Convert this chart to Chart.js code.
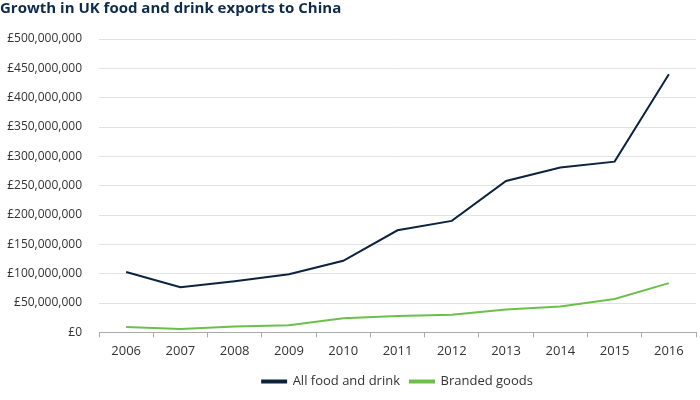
<!DOCTYPE html>
<html>
<head>
<meta charset="utf-8">
<script src="https://cdn.jsdelivr.net/npm/chart.js@4"></script>
<style>
  html, body { margin: 0; padding: 0; background: #fff; }
  #wrap { width: 700px; height: 400px; }
</style>
</head>
<body>
<div id="wrap"><canvas id="myChart" width="700" height="400"></canvas></div>
<script>
let years = ['2006', '2007', '2008', '2009', '2010', '2011', '2012', '2013', '2014', '2015', '2016'];
let allFoodDrink = [103000000, 77000000, 87000000, 99000000, 122000000, 174000000, 190000000, 258000000, 281000000, 291000000, 440000000];
let brandedGoods = [9000000, 6000000, 10000000, 12000000, 24000000, 28000000, 30000000, 39000000, 44000000, 57000000, 84000000];
let navy = '#0c2340';
let green = '#6cc04a';

let ctx = document.getElementById('myChart').getContext('2d');

// centre the legend under the plot area instead of the whole canvas
let legendUnderPlot = {
  id: 'legendUnderPlot',
  afterLayout: (chart) => {
    chart.legend.left = chart.chartArea.left;
    chart.legend.right = chart.chartArea.right;
  }
};

let myChart = new Chart(ctx, {
  type: 'line',
  data: {
    labels: years,
    datasets: [{
      label: 'All food and drink',
      data: allFoodDrink,
      borderColor: navy,
      backgroundColor: navy,
      borderWidth: 2,
      pointRadius: 0,
      tension: 0
    }, {
      label: 'Branded goods',
      data: brandedGoods,
      borderColor: green,
      backgroundColor: green,
      borderWidth: 2,
      pointRadius: 0,
      tension: 0
    }]
  },
  plugins: [legendUnderPlot],
  options: {
    responsive: false,
    animation: false,
    layout: { padding: { left: 0, right: 4, top: 0, bottom: 2 } },
    plugins: {
      title: {
        display: true,
        text: 'Growth in UK food and drink exports to China',
        align: 'start',
        color: '#0d2b4e',
        font: { family: 'Open Sans', size: 15, weight: 'bold' },
        padding: { top: 0, bottom: 21 }
      },
      legend: {
        position: 'bottom',
        labels: {
          boxWidth: 24,
          boxHeight: 2,
          color: '#333',
          font: { family: 'Open Sans', size: 13 },
          padding: 10
        }
      },
      tooltip: { enabled: false }
    },
    scales: {
      x: {
        offset: true,
        grid: {
          offset: true,
          drawOnChartArea: false,
          drawTicks: true,
          tickLength: 5,
          color: '#aaa'
        },
        border: { color: '#aaa' },
        ticks: {
          color: '#333',
          font: { family: 'Open Sans', size: 13 },
          padding: 6,
          maxRotation: 0
        }
      },
      y: {
        min: 0,
        max: 500000000,
        afterFit: (scale) => {
          scale.width = 99;
        },
        grid: { color: '#e2e2e2', drawTicks: false },
        border: { display: false },
        ticks: {
          stepSize: 50000000,
          color: '#333',
          padding: 17,
          font: { family: 'Open Sans', size: 12 },
          callback: (value) => {
            return '£' + value.toLocaleString('en-GB');
          }
        }
      }
    }
  }
});
</script>
</body>
</html>
